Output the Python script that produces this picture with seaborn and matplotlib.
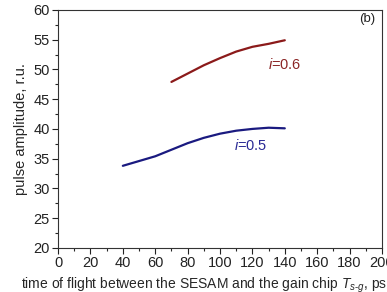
import matplotlib
matplotlib.use("Agg")
import matplotlib.pyplot as plt
import seaborn as sns
import pandas as pd
from matplotlib.ticker import MultipleLocator

x_06 = [70, 80, 90, 100, 110, 120, 130, 140]
y_06 = [47.9, 49.3, 50.7, 51.9, 53.0, 53.8, 54.3, 54.9]
x_05 = [40, 50, 60, 70, 80, 90, 100, 110, 120, 130, 140]
y_05 = [33.8, 34.6, 35.4, 36.5, 37.6, 38.5, 39.2, 39.7, 40.0, 40.2, 40.1]

sns.set_style("ticks")
plt.rcParams['font.family'] = ['Liberation Sans', 'DejaVu Sans']
plt.rcParams['mathtext.fontset'] = 'custom'
plt.rcParams['mathtext.it'] = 'Liberation Sans:italic'
plt.rcParams['mathtext.rm'] = 'Liberation Sans'

fig = plt.figure(figsize=(3.87, 2.92), dpi=100)
ax = fig.add_axes([0.150, 0.151, 0.837, 0.815])

df6 = pd.DataFrame({"x": x_06, "y": y_06})
df5 = pd.DataFrame({"x": x_05, "y": y_05})
sns.lineplot(data=df6, x="x", y="y", ax=ax, color="#8b1a1a", linewidth=1.6)
sns.lineplot(data=df5, x="x", y="y", ax=ax, color="#1a1a80", linewidth=1.6)

ax.set_xlim(0, 200)
ax.set_ylim(20, 60)
ax.xaxis.set_major_locator(MultipleLocator(20))
ax.xaxis.set_minor_locator(MultipleLocator(10))
ax.yaxis.set_major_locator(MultipleLocator(5))
ax.yaxis.set_minor_locator(MultipleLocator(2.5))
ax.tick_params(which='major', direction='out', length=4, width=0.8, labelsize=10.5, colors='#222222', pad=2)
ax.tick_params(which='minor', direction='out', length=2.5, width=0.8)
for s in ax.spines.values():
    s.set_linewidth(0.8)
    s.set_color('#333333')

ax.set_xlabel("time of flight between the SESAM and the gain chip $T_{s\u2010g}$, ps", fontsize=10)
ax.xaxis.set_label_coords(0.45, -0.115)
ax.set_ylabel("pulse amplitude, r.u.", fontsize=10.5, labelpad=4)

ax.text(129.5, 50.9, "$i$=0.6", color="#8b2525", fontsize=10.5, ha='left', va='center')
ax.text(108.6, 37.2, "$i$=0.5", color="#2a2a95", fontsize=10.5, ha='left', va='center')
ax.text(196, 58.5, "(b)", color="#222222", fontsize=9.5, ha='right', va='center')

fig.savefig("out.png", dpi=100)
